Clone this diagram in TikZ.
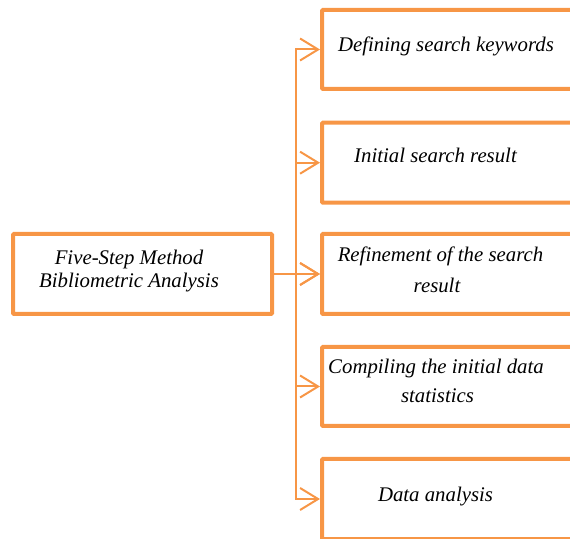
\documentclass[tikz,border=0pt]{standalone}
\usepackage{fontspec}
\setmainfont{Liberation Serif}
\usetikzlibrary{arrows.meta}
\definecolor{accent}{HTML}{F79646}
\tikzset{
  box/.style={draw=accent, line width=4pt, rounded corners=1pt, rectangle, inner sep=0pt},
  link/.style={draw=accent, line width=2pt},
  arr/.style={link, -{Straight Barb[length=18pt,width=22pt,line width=2pt]}},
  lbl/.style={anchor=base, inner sep=0pt, font=\fontsize{20.8}{22}\selectfont\itshape}
}
\begin{document}
\begin{tikzpicture}[x=1pt,y=1pt]
\useasboundingbox (0,0) rectangle (570,538);

% step boxes (right side runs past the page edge)
\node[box, minimum width=268pt, minimum height=79pt] (b1) at (456,488.5) {};
\node[box, minimum width=268pt, minimum height=80pt] (b2) at (456,375.3) {};
\node[box, minimum width=268pt, minimum height=80pt] (b3) at (456,264) {};
\node[box, minimum width=268pt, minimum height=79pt] (b4) at (456,151.5) {};
\node[box, minimum width=268pt, minimum height=80pt] (b5) at (456,39) {};

% method box
\node[box, minimum width=259pt, minimum height=80pt] (m) at (142.5,264) {};

% labels
\node[lbl] (t1) at (446,486) {Defining search keywords};
\node[lbl] (t2) at (435.5,375) {Initial search result};
\node[lbl] (t3a) at (440.5,276.3) {Refinement of the search};
\node[lbl] (t3b) at (437,245.7) {result};
\node[lbl] (t4a) at (436,164.3) {Compiling the initial data};
\node[lbl] (t4b) at (437.5,135) {statistics};
\node[lbl] (t5) at (435.5,36.3) {Data analysis};
\node[lbl] (ma) at (129,273) {Five-Step Method};
\node[lbl] (mb) at (129,250.3) {Bibliometric Analysis};

% connectors
\coordinate (spine) at (296,0);
\draw[link, line cap=rect] (spine |- b1.west) -- (spine |- b5.west);
\draw[arr] (m.east) -- (b3.west);
\foreach \b in {b1,b2,b3,b4,b5}
  \draw[arr] (spine |- \b.west) -- (\b.west);
\end{tikzpicture}
\end{document}
